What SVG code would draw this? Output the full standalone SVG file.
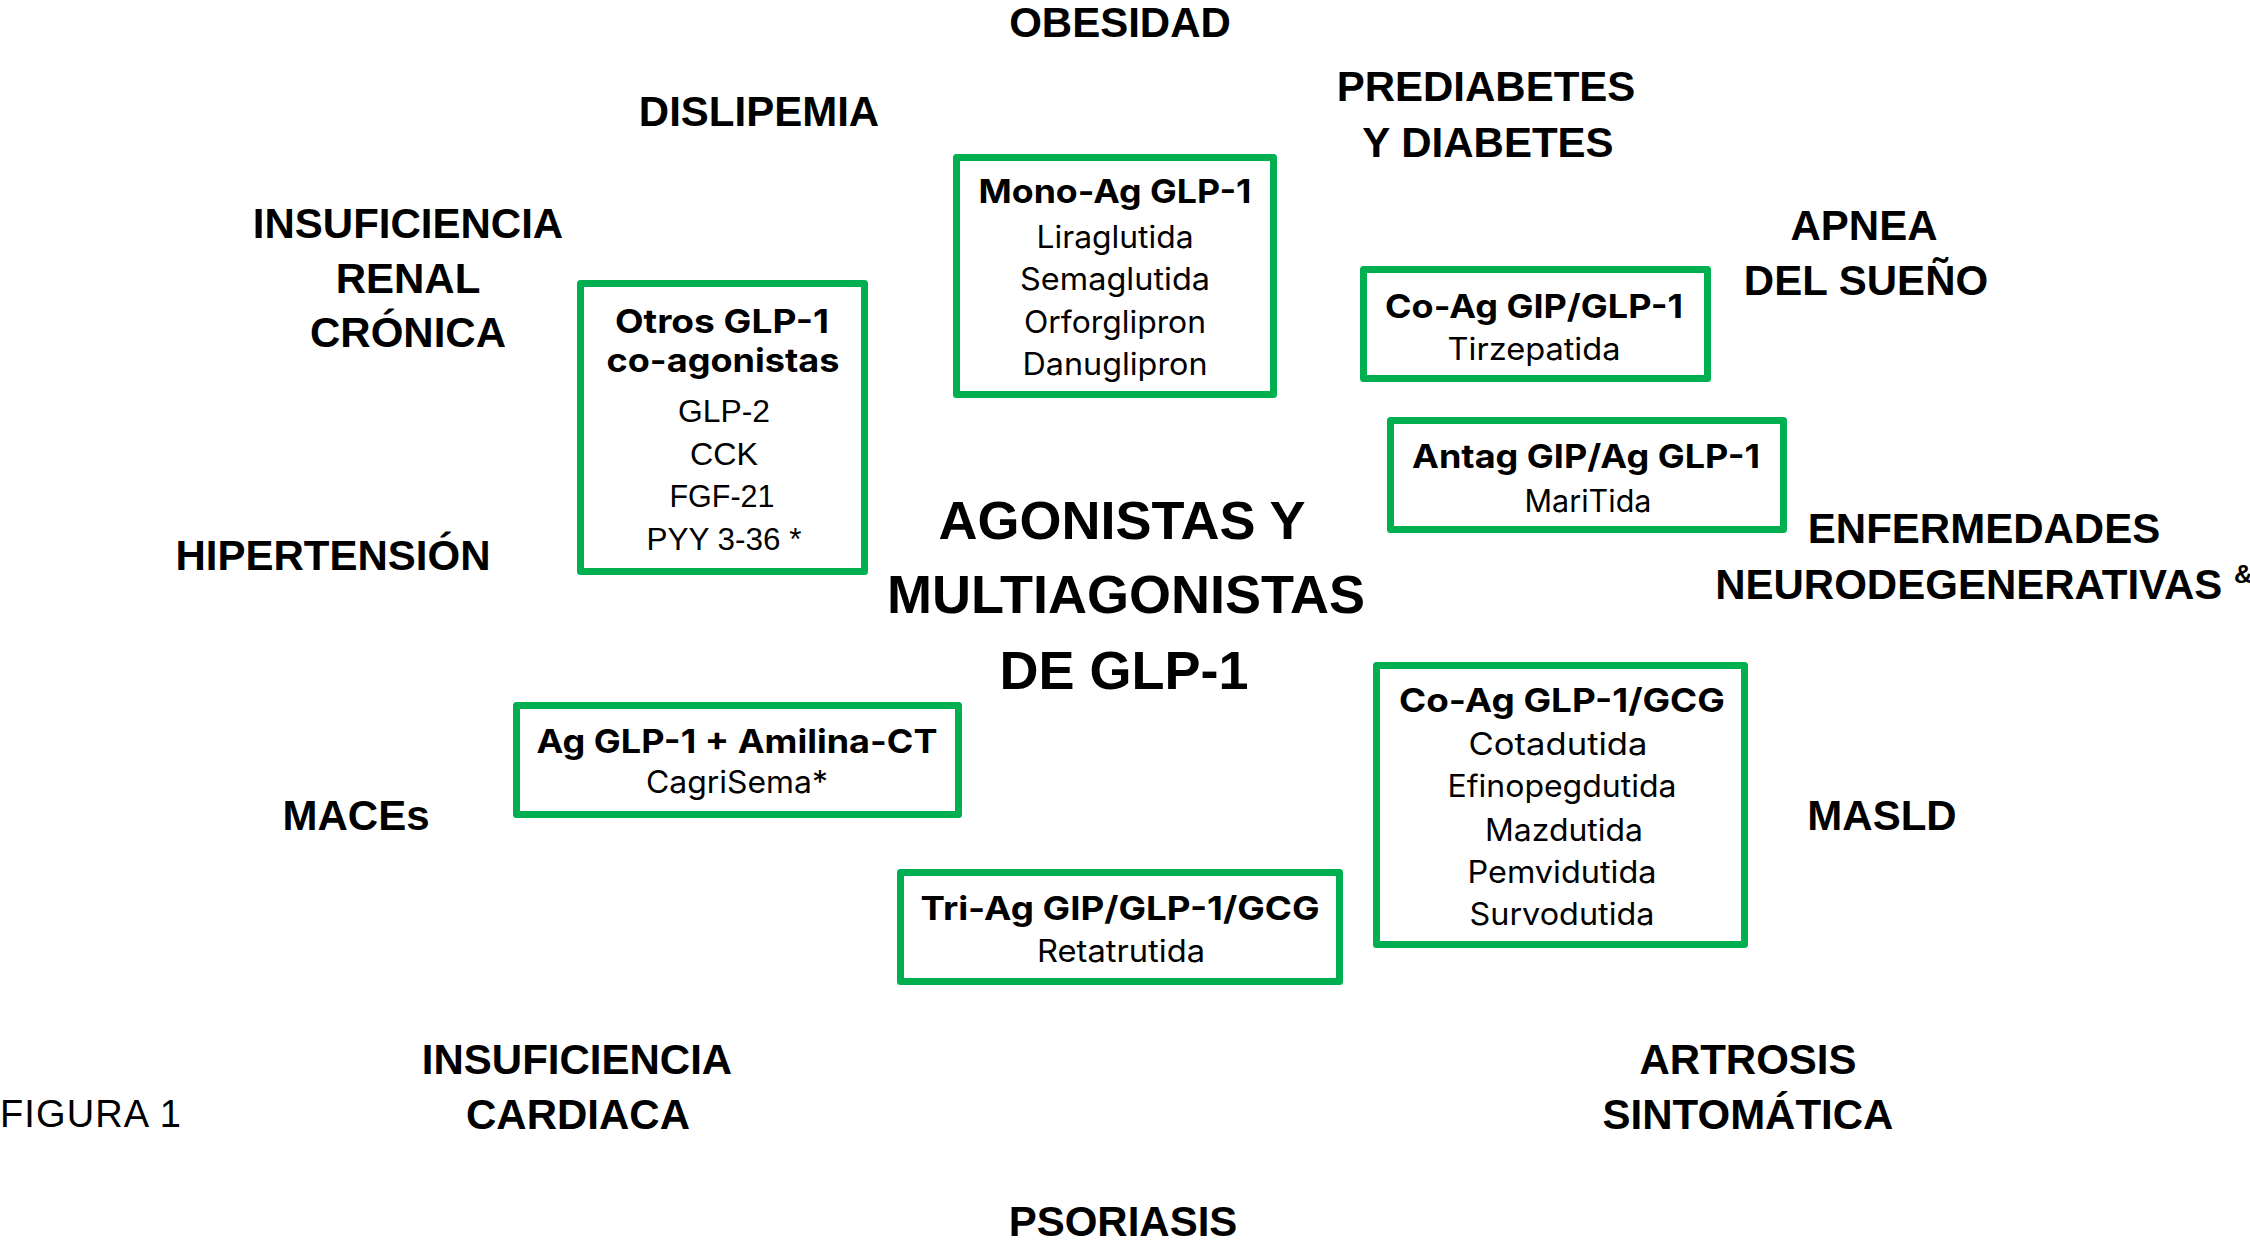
<svg xmlns="http://www.w3.org/2000/svg" width="2250" height="1242" viewBox="0 0 2250 1242">
<style>
.box{fill:#fff;stroke:#00B050;stroke-width:7;stroke-linejoin:round}
.lbl{font-family:"Liberation Sans",Arial,sans-serif;font-weight:bold;font-size:42px;text-anchor:middle;fill:#000}
.ttl{font-family:"Liberation Sans",Arial,sans-serif;font-weight:bold;font-size:54px;text-anchor:middle;fill:#000}
.bt{font-family:Inter,"Liberation Sans",sans-serif;font-weight:bold;font-size:33px;text-anchor:middle;fill:#000}
.bi{font-family:Inter,"Liberation Sans",sans-serif;font-weight:normal;font-size:31px;text-anchor:middle;fill:#000}
.ba{font-family:"Liberation Sans",Arial,sans-serif;font-weight:normal;font-size:31px;text-anchor:middle;fill:#000}
.fig{font-family:"Liberation Sans",Arial,sans-serif;font-size:38px;fill:#000}
</style>
<rect width="2250" height="1242" fill="#fff"/>
<g id="connectors"/>
<g id="labels">
<text class="lbl" x="1120" y="37">OBESIDAD</text>
<text class="lbl" x="759" y="126">DISLIPEMIA</text>
<text class="lbl" x="1486" y="101">PREDIABETES</text>
<text class="lbl" x="1488" y="157">Y DIABETES</text>
<text class="lbl" x="408" y="238">INSUFICIENCIA</text>
<text class="lbl" x="408" y="293">RENAL</text>
<text class="lbl" x="408" y="347">CRÓNICA</text>
<text class="lbl" x="1864" y="240">APNEA</text>
<text class="lbl" x="1866" y="295">DEL SUEÑO</text>
<text class="lbl" x="333" y="570">HIPERTENSIÓN</text>
<text class="lbl" x="1984" y="543">ENFERMEDADES</text>
<text class="lbl" x="1984" y="599">NEURODEGENERATIVAS <tspan font-size="26" dy="-16">&amp;</tspan></text>
<text class="lbl" x="356" y="830">MACEs</text>
<text class="lbl" x="1882" y="830">MASLD</text>
<text class="lbl" x="577" y="1074">INSUFICIENCIA</text>
<text class="lbl" x="578" y="1129">CARDIACA</text>
<text class="lbl" x="1748" y="1074">ARTROSIS</text>
<text class="lbl" x="1748" y="1129">SINTOMÁTICA</text>
<text class="lbl" x="1123" y="1236">PSORIASIS</text>
<text class="fig" x="0" y="1127" textLength="181">FIGURA 1</text>
</g>
<g id="center-title">
<text class="ttl" x="1122" y="539">AGONISTAS Y</text>
<text class="ttl" x="1126" y="613">MULTIAGONISTAS</text>
<text class="ttl" x="1124" y="689">DE GLP-1</text>
</g>
<g id="mono-ag">
<rect class="box" x="956.5" y="157.5" width="317" height="237"/>
<text class="bt" x="1115" y="203" textLength="273" lengthAdjust="spacingAndGlyphs">Mono-Ag GLP-1</text>
<text class="bi" x="1115" y="248" textLength="157" lengthAdjust="spacingAndGlyphs">Liraglutida</text>
<text class="bi" x="1115" y="290" textLength="190" lengthAdjust="spacingAndGlyphs">Semaglutida</text>
<text class="bi" x="1115" y="333" textLength="182" lengthAdjust="spacingAndGlyphs">Orforglipron</text>
<text class="bi" x="1115" y="375" textLength="185" lengthAdjust="spacingAndGlyphs">Danuglipron</text>
</g>
<g id="otros">
<rect class="box" x="580.5" y="283.5" width="284" height="288"/>
<text class="bt" x="722" y="333" textLength="214" lengthAdjust="spacingAndGlyphs">Otros GLP-1</text>
<text class="bt" x="723" y="372" textLength="233" lengthAdjust="spacingAndGlyphs">co-agonistas</text>
<text class="ba" x="724" y="422" textLength="92" lengthAdjust="spacingAndGlyphs">GLP-2</text>
<text class="ba" x="724" y="465" textLength="68" lengthAdjust="spacingAndGlyphs">CCK</text>
<text class="ba" x="722" y="507" textLength="105" lengthAdjust="spacingAndGlyphs">FGF-21</text>
<text class="ba" x="724" y="550" textLength="155" lengthAdjust="spacingAndGlyphs">PYY 3-36 *</text>
</g>
<g id="coag-gip">
<rect class="box" x="1363.5" y="269.5" width="344" height="109"/>
<text class="bt" x="1534" y="318" textLength="298" lengthAdjust="spacingAndGlyphs">Co-Ag GIP/GLP-1</text>
<text class="bi" x="1534" y="360" textLength="173" lengthAdjust="spacingAndGlyphs">Tirzepatida</text>
</g>
<g id="antag">
<rect class="box" x="1390.5" y="420.5" width="393" height="109"/>
<text class="bt" x="1586" y="468" textLength="348" lengthAdjust="spacingAndGlyphs">Antag GIP/Ag GLP-1</text>
<text class="bi" x="1588" y="512" textLength="127" lengthAdjust="spacingAndGlyphs">MariTida</text>
</g>
<g id="amilina">
<rect class="box" x="516.5" y="705.5" width="442" height="109"/>
<text class="bt" x="737" y="753" textLength="401" lengthAdjust="spacingAndGlyphs">Ag GLP-1 + Amilina-CT</text>
<text class="bi" x="737" y="793" textLength="182" lengthAdjust="spacingAndGlyphs">CagriSema*</text>
</g>
<g id="triag">
<rect class="box" x="900.5" y="872.5" width="439" height="109"/>
<text class="bt" x="1120" y="920" textLength="399" lengthAdjust="spacingAndGlyphs">Tri-Ag GIP/GLP-1/GCG</text>
<text class="bi" x="1121" y="962" textLength="168" lengthAdjust="spacingAndGlyphs">Retatrutida</text>
</g>
<g id="coag-gcg">
<rect class="box" x="1376.5" y="665.5" width="368" height="279"/>
<text class="bt" x="1562" y="712" textLength="326" lengthAdjust="spacingAndGlyphs">Co-Ag GLP-1/GCG</text>
<text class="bi" x="1558" y="755" textLength="179" lengthAdjust="spacingAndGlyphs">Cotadutida</text>
<text class="bi" x="1562" y="797" textLength="229" lengthAdjust="spacingAndGlyphs">Efinopegdutida</text>
<text class="bi" x="1564" y="841" textLength="158" lengthAdjust="spacingAndGlyphs">Mazdutida</text>
<text class="bi" x="1562" y="883" textLength="189" lengthAdjust="spacingAndGlyphs">Pemvidutida</text>
<text class="bi" x="1562" y="925" textLength="185" lengthAdjust="spacingAndGlyphs">Survodutida</text>
</g>
</svg>
